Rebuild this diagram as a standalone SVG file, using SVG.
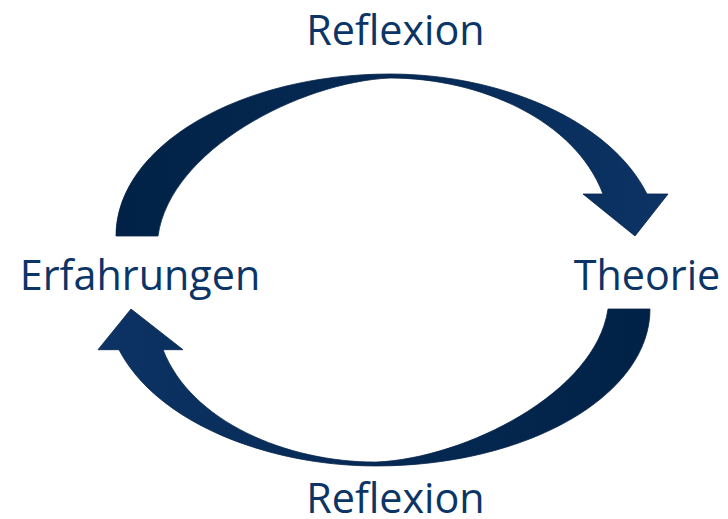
<svg xmlns="http://www.w3.org/2000/svg" xmlns:xlink="http://www.w3.org/1999/xlink" width="728" height="519" viewBox="0 0 728 519">
  <style>
    .lbl { font-family: "Open Sans", "Noto Sans", "Liberation Sans", sans-serif; font-size: 41.3px; fill: #0b3566; }
    .arrow { fill: url(#g); stroke: #06244a; stroke-width: 0.8; stroke-linejoin: miter; }
  </style>
  <defs>
    <linearGradient id="g" x1="0" y1="0" x2="1" y2="0">
      <stop offset="0" stop-color="#012246"/>
      <stop offset="0.5" stop-color="#062a55"/>
      <stop offset="1" stop-color="#0c3364"/>
    </linearGradient>
    <path id="curvedArrow" d="M116,236 C116,146.5 239,74 390,74 C500,74 610,120 647,194 L668,194 L635,236 L583,194 L603,194 C575,120 480,78 390,78 C300,82 170,150 158,236 Z"/>
  </defs>
  <rect width="728" height="519" fill="#ffffff"/>
  <g id="connectors">
    <use id="arrow-top" class="arrow" xlink:href="#curvedArrow"/>
    <use id="arrow-bottom" class="arrow" xlink:href="#curvedArrow" transform="translate(766,309) scale(-1,-0.969) translate(0,-236)"/>
  </g>
  <g id="label-reflexion-top">
    <text class="lbl" x="395.5" y="44.5" text-anchor="middle">Reflexion</text>
  </g>
  <g id="label-reflexion-bottom">
    <text class="lbl" x="395.5" y="513" text-anchor="middle">Reflexion</text>
  </g>
  <g id="node-erfahrungen">
    <text class="lbl" x="140" y="289.5" text-anchor="middle">Erfahrungen</text>
  </g>
  <g id="node-theorie">
    <text class="lbl" x="647" y="289.5" text-anchor="middle">Theorie</text>
  </g>
</svg>
